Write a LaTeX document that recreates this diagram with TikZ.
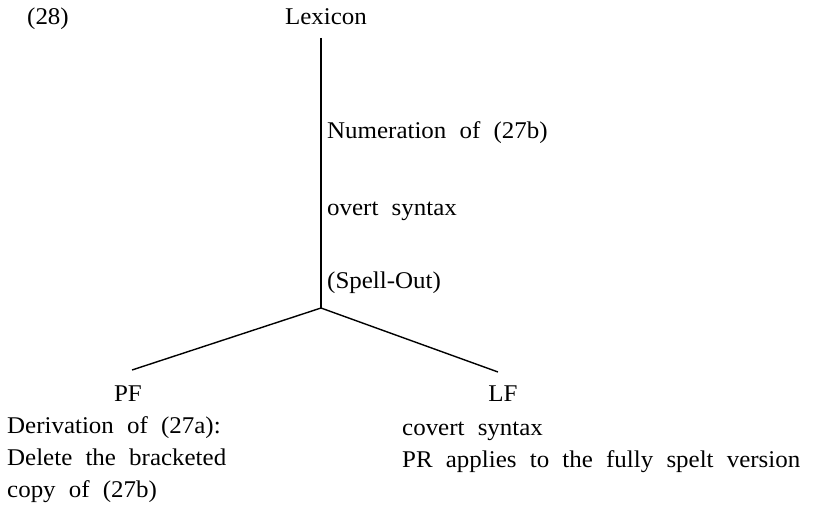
\documentclass[tikz,border=0pt]{standalone}
\usepackage{fontspec}
\setmainfont[FakeStretch=1.04]{Liberation Serif}
\begin{document}
\begin{tikzpicture}[x=1pt,y=-1pt,
  txt/.style={font={\fontsize{24}{28}\selectfont\spaceskip=0.55em\relax}, inner sep=0pt, anchor=base west},
  ctxt/.style={txt, anchor=base},
  branch/.style={line width=1.4pt}]
\useasboundingbox (0,0) rectangle (821,519);
\node[txt] (num) at (27,25) {(28)};
\node[ctxt] (lex) at (326,25) {Lexicon};
\coordinate (top) at (321,38);
\coordinate (j) at (321,308);
\coordinate (lend) at (132,370);
\coordinate (rend) at (498,372);
\draw[branch] (top) -- (j);
\draw[branch] (j) -- (lend);
\draw[branch] (j) -- (rend);
\node[txt] (n1) at (327,138) {Numeration of (27b)};
\node[txt] (n2) at (327,215) {overt syntax};
\node[txt] (n3) at (327,288) {(Spell-Out)};
\node[ctxt] (pf) at (128,401) {PF};
\node[ctxt] (lf) at (503,401) {LF};
\node[txt] (p1) at (7,433) {Derivation of (27a):};
\node[txt] (p2) at (7,465) {Delete the bracketed};
\node[txt] (p3) at (7,497) {copy of (27b)};
\node[txt] (l1) at (402,435) {covert syntax};
\node[txt] (l2) at (402,467) {PR applies to the fully spelt version};
\end{tikzpicture}
\end{document}
